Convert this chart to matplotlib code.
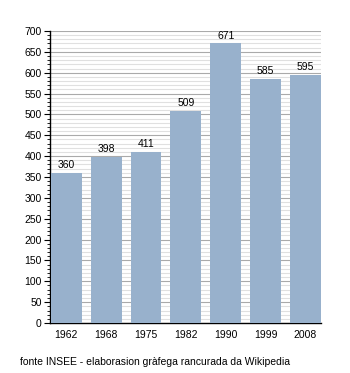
import numpy as np
import matplotlib.pyplot as plt
from matplotlib.ticker import MultipleLocator

# Populacion per annada de recensament
annadas = ['1962', '1968', '1975', '1982', '1990', '1999', '2008']
populacion = [360, 398, 411, 509, 671, 585, 595]

BAR_COLOR = '#98b1cc'
FS = 7.5

plt.rcParams['font.family'] = ['Liberation Sans', 'DejaVu Sans']

fig = plt.figure(figsize=(3.5, 3.73), dpi=100, facecolor='white')
ax = fig.add_axes([0.143, 0.134, 0.774, 0.783])

x = np.arange(len(annadas))
bars = ax.bar(x, populacion, width=0.775, color=BAR_COLOR, zorder=3)

for xi, val in zip(x, populacion):
    ax.text(xi, val + 6, str(val), ha='center', va='bottom', fontsize=FS, zorder=4)

ax.set_xlim(-0.41, 6.39)
ax.set_ylim(0, 700)
ax.set_xticks(x)
ax.set_xticklabels(annadas, fontsize=FS)
ax.yaxis.set_major_locator(MultipleLocator(50))
ax.yaxis.set_minor_locator(MultipleLocator(10))
ax.tick_params(axis='y', which='major', labelsize=FS, length=4, width=0.8, pad=2)
ax.tick_params(axis='y', which='minor', length=2, width=0.6)
ax.tick_params(axis='x', length=0, pad=5)

# quadrilhatge: linhas grandas cada 50, pichonas cada 10
ax.grid(axis='y', which='major', color='#aaaaaa', linewidth=0.8, zorder=1)
ax.grid(axis='y', which='minor', color='#e0e0e0', linewidth=0.8, zorder=1)
ax.set_axisbelow(True)

for side in ('top', 'right'):
    ax.spines[side].set_visible(False)
ax.spines['left'].set_linewidth(1.0)
ax.spines['bottom'].set_linewidth(1.0)

fig.text(20 / 350, 1 - 362 / 373, 'fonte INSEE - elaborasion gràfega rancurada da Wikipedia',
         fontsize=FS, va='center', ha='left')

fig.savefig('out.png', dpi=100, facecolor='white')
